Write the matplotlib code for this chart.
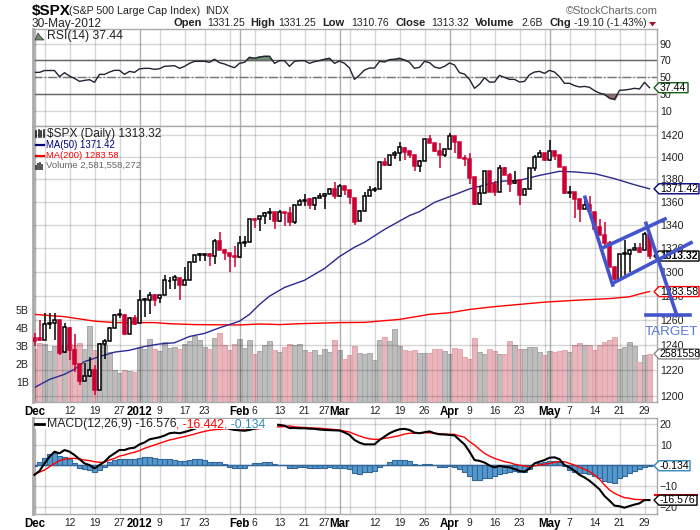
import matplotlib
matplotlib.use('Agg')
import matplotlib.pyplot as plt
from matplotlib.lines import Line2D
from matplotlib.patches import Polygon
from matplotlib.ticker import NullFormatter

W, H = 700, 530
plt.rcParams['font.family'] = ['Liberation Sans', 'DejaVu Sans']

# price, one row per ten sessions, Dec 1 2011 to May 30 2012
opens = [1246, 1246, 1244, 1257, 1258, 1260.5, 1235, 1254, 1236, 1225,
         1212, 1216, 1220, 1205, 1241, 1243, 1254, 1264.5, 1264, 1249,
         1262, 1258, 1277, 1277, 1281, 1278, 1281, 1292, 1293, 1295,
         1289, 1293, 1308, 1314, 1314, 1315, 1313, 1326, 1318, 1316,
         1313, 1312.5, 1324, 1325.5, 1345, 1345, 1347.5, 1350, 1351, 1343,
         1351, 1350, 1342, 1357, 1361, 1362, 1357, 1363, 1365, 1367,
         1371, 1365, 1374, 1370, 1363, 1343, 1352, 1365, 1370, 1371,
         1395, 1393, 1402, 1403, 1408, 1405, 1402, 1392, 1396.5, 1416,
         1412, 1405, 1402, 1407, 1418.5, 1413, 1398.5, 1398, 1382, 1358,
         1368, 1387, 1376, 1369, 1390, 1384, 1376.5, 1379, 1366, 1371,
         1390, 1400, 1403, 1397, 1405.5, 1402, 1391, 1368, 1369, 1362,
         1354, 1357, 1351, 1338, 1331, 1324, 1304, 1294, 1315, 1315,
         1318, 1320, 1318, 1331.25]
highs = [1250, 1260, 1266, 1266, 1266, 1260.5, 1258, 1255, 1249, 1225,
         1226, 1231, 1224, 1242, 1245, 1255, 1265, 1269, 1265, 1263,
         1264, 1285, 1278.5, 1283, 1282, 1281, 1297, 1296, 1297, 1295,
         1304, 1308, 1314.5, 1316, 1315, 1316, 1328, 1334, 1319, 1316,
         1322, 1330, 1330, 1345, 1345.5, 1348, 1351, 1354.5, 1351.5, 1353,
         1351.5, 1355, 1357, 1362, 1367, 1363, 1364, 1368, 1368, 1372,
         1377, 1376, 1374, 1370, 1363, 1353, 1369, 1374, 1373, 1395,
         1399, 1402, 1405, 1413, 1409, 1405, 1402, 1397, 1416, 1419.5,
         1412, 1412, 1407, 1422, 1419, 1413, 1402, 1403, 1382, 1374,
         1387, 1387, 1378, 1393, 1391, 1385, 1387, 1380, 1372, 1390,
         1402, 1406, 1403, 1415, 1405.5, 1402, 1391, 1374, 1369, 1362,
         1365, 1365, 1351, 1345, 1342, 1326, 1304, 1315, 1327, 1319,
         1324, 1324, 1334, 1331.25]
lows = [1239, 1243, 1244, 1253, 1244, 1232, 1234, 1228, 1219, 1209,
        1212, 1215, 1201, 1205, 1229, 1243, 1254, 1262, 1248, 1249,
        1256, 1258, 1263, 1265, 1272, 1274, 1281, 1286, 1286, 1277,
        1289, 1293, 1308, 1309, 1309, 1305, 1307, 1318, 1310, 1300,
        1304, 1312, 1321, 1325, 1337, 1335, 1341, 1344, 1336, 1342,
        1339, 1339, 1341, 1357, 1356, 1354, 1353, 1363, 1354, 1367,
        1362, 1364, 1366, 1358, 1340, 1343, 1352, 1365, 1369, 1371,
        1392, 1392, 1398, 1396, 1397, 1399, 1387, 1386, 1396, 1412,
        1404, 1390, 1400, 1407, 1403, 1399, 1392, 1376, 1357, 1357,
        1368, 1369, 1365, 1369, 1384, 1369, 1376, 1357, 1366, 1371,
        1387, 1400, 1396, 1396, 1397, 1391, 1367, 1363, 1346, 1342,
        1354, 1352, 1335, 1331, 1323, 1304, 1291, 1294, 1297, 1300,
        1318, 1316, 1318, 1310.76]
closes = [1243, 1244, 1257, 1258, 1260.5, 1234, 1255, 1236, 1225, 1212,
          1216, 1220, 1205, 1241, 1243, 1254, 1264.5, 1265, 1249, 1262,
          1257, 1277, 1277.5, 1281, 1277, 1281, 1293, 1292.5, 1296, 1289,
          1293, 1308, 1314.5, 1315, 1315, 1313, 1326, 1318, 1316, 1313,
          1312.5, 1324, 1325.5, 1345, 1344, 1347.5, 1350, 1351, 1343, 1351,
          1350, 1342, 1357, 1360.5, 1361.5, 1357, 1363, 1365, 1367, 1371,
          1365, 1374, 1370, 1364, 1342, 1352, 1365, 1370, 1371, 1395,
          1393, 1402, 1403, 1409, 1404.5, 1402, 1392, 1396.5, 1416, 1412,
          1405, 1402, 1407, 1418.5, 1413, 1399, 1398, 1381, 1358, 1368,
          1387, 1369, 1369, 1390, 1384, 1376, 1378.5, 1366, 1371, 1390,
          1400, 1403, 1397, 1405, 1401, 1391, 1368, 1368.5, 1362, 1354,
          1357, 1352, 1336, 1331, 1324, 1304, 1294, 1315, 1316, 1318,
          1320, 1317, 1332, 1313.32]

volume = [2.85, 3.16, 3.13, 2.74, 3.03, 3.1, 3.0, 3.15, 3.1, 3.17,
          2.88, 4.13, 2.8, 3.16, 3.1, 2.7, 1.68, 1.5, 1.68, 1.62,
          1.55, 2.97, 2.85, 3.4, 2.88, 2.74, 3.22, 2.92, 2.97, 2.88,
          3.13, 3.3, 3.57, 3.35, 2.97, 2.85, 3.45, 3.75, 3.07, 2.8,
          3.13, 3.39, 2.89, 3.35, 2.57, 2.74, 3.1, 3.29, 2.8, 2.66,
          2.98, 3.13, 3.07, 3.13, 2.8, 2.66, 2.8, 2.52, 2.85, 2.66,
          3.35, 2.8, 2.3, 2.52, 3.0, 2.65, 2.57, 2.65, 2.24, 3.35,
          3.5, 3.29, 3.94, 3.0, 2.8, 2.74, 2.8, 2.65, 2.65, 2.65,
          2.85, 2.85, 2.74, 2.57, 2.89, 2.83, 2.42, 2.29, 3.44, 2.66,
          2.55, 2.83, 2.76, 2.55, 2.6, 3.29, 3.1, 2.83, 2.83, 2.94,
          2.94, 2.66, 2.52, 2.74, 2.7, 2.74, 2.8, 2.66, 3.07, 3.16,
          3.07, 3.07, 2.8, 3.07, 3.22, 3.35, 3.5, 2.83, 2.94, 3.22,
          3.02, 2.11, 2.52, 2.58]

rsi = [55.8, 55.8, 58, 58, 58, 50.6, 55.4, 51.4, 48.6, 45,
       46.2, 47, 43.9, 53.4, 53.4, 56.2, 58.2, 58.2, 53.4, 57,
       55.8, 60, 60.6, 60.6, 59.4, 60.2, 63, 63.4, 63.8, 60.6,
       63, 66.6, 69, 69, 69, 67.8, 71.4, 67.4, 65.8, 63.4,
       61.4, 66.6, 67.8, 73.8, 72.6, 74.2, 75, 75, 66.6, 69.8,
       69.8, 63, 69, 69.8, 69.8, 66.6, 68.6, 69.8, 71.4, 72.6,
       66.6, 69.4, 66.6, 61, 47.4, 52.6, 58.6, 61, 61, 69,
       68.2, 71, 71.4, 72.6, 70.6, 67.8, 60.6, 61.8, 69, 67.4,
       62.2, 60.6, 63, 67, 64.6, 55.4, 53.8, 47.4, 36.7, 41.5,
       49.4, 44.2, 44.2, 52.2, 49.8, 47.4, 47.4, 44.2, 45, 53,
       56.2, 57, 54.6, 58.2, 56.2, 50.6, 42.7, 42.7, 39.9, 38.3,
       39, 37.9, 33.9, 31, 29.5, 25, 23.5, 34.3, 34.7, 35.5,
       36.7, 35.9, 43.9, 37.44]

macd = [-4.5, -2.6, 1, 4.2, 6.6, 5.8, 7.4, 6.6, 5, 3,
        1, 0.2, -1.4, 0.2, 1.8, 4.2, 5.8, 7.4, 7.4, 8.2,
        8.5, 10.1, 11, 12.5, 13, 13.5, 14.3, 15.4, 15.7, 15.4,
        16, 16.7, 17.5, 18.5, 19.3, 19.6, 19.5, 19.2, 18.5, 17.5,
        17, 16.8, 16.6, 17, 17.6, 18, 18.5, 19, 19.5, 19.4,
        19, 17.9, 17.9, 17.8, 17.8, 17.6, 17.5, 17.2, 17, 16.9,
        16.8, 16.7, 15.8, 14.6, 12.2, 10.9, 10.1, 10.1, 10.1, 12.2,
        13.8, 15.4, 16.5, 17.3, 17.5, 17, 15.7, 15.4, 15.9, 16.3,
        15.4, 14.9, 14.8, 14.6, 14.4, 12.2, 10.1, 6.6, 2.6, 2.2,
        1.4, 0, -0.9, -0.2, -0.6, -0.9, -1.7, -2.6, -3, -1.4,
        1, 1.8, 2.6, 3.7, 3.9, 3, 0.2, -1, -2.5, -4.5,
        -5.7, -7.3, -9.3, -11.4, -14.6, -16.8, -19.2, -19.5, -20.2, -19.4,
        -18.7, -18.1, -16.5, -16.576]
signal = [-4.1, -3.2, -2.2, -0.6, 1, 2.3, 3, 3.4, 3.4, 3.1,
          2.6, 2.3, 1.8, 1.5, 1.5, 2.6, 3.4, 4.5, 5, 5.8,
          6.3, 7.1, 8.2, 9, 9.8, 10.6, 11.4, 12.2, 12.7, 13.3,
          13.8, 14.4, 15, 15.7, 16.3, 16.8, 17.1, 17.3, 17.5, 17.6,
          17.6, 17.5, 17.4, 17.4, 17.5, 17.6, 17.8, 18, 18.3, 18.5,
          18.6, 18.9, 18.5, 18.3, 18.2, 18, 17.9, 17.8, 17.6, 17.4,
          17.2, 17, 16.4, 16, 15, 14.1, 13.3, 12.7, 12.5, 12.5,
          13, 13.3, 13.8, 14.3, 15, 15.4, 15.4, 15.5, 15.7, 15.6,
          15.4, 15.2, 15, 14.9, 14.9, 14.1, 13.5, 11.4, 9.8, 7.7,
          5.8, 4.5, 3.4, 2.6, 1.8, 1.4, 0.6, 0.1, -0.2, -0.6,
          -0.2, 0.2, 0.6, 1, 1.5, 1.8, 1.8, 1, 0.2, -0.9,
          -1.8, -3, -4.5, -6.6, -9.3, -11.7, -13.3, -14.4, -15.4, -15.7,
          -16.2, -16.3, -16.4, -16.442]
hist = [-0.4, 1.8, 3.7, 5.3, 6.2, 4.6, 4.1, 3.3, 1, -1,
        -1.9, -2.2, -3.3, -2.2, -0.6, 1.8, 2.6, 2.9, 2.9, 2.9,
        3, 3.4, 3.9, 3.9, 3.4, 3, 3.2, 3.2, 2.7, 2.1,
        2.3, 2.6, 2.9, 2.9, 2.4, 1.9, 1.8, 1.5, 0.5, -0.6,
        -1, -1, -1, 0.4, 1, 1, 1.5, 1.5, 0.5, 0,
        0, -1, -1, -0.5, -0.5, -1, -1, -1, -1, -0.5,
        -1, -1, -1.4, -1.9, -3.7, -4, -3.3, -3, -2.6, -0.6,
        0.4, 1.5, 2.4, 2.6, 2.6, 2.1, 0.5, 0, 0.5, 0.5,
        0, -0.9, -0.9, -0.4, -0.9, -1.9, -3.3, -4.9, -7, -7,
        -6, -5.8, -4.9, -4, -3.6, -2.9, -2.6, -3.3, -3, -1.7,
        0, 1, 1.5, 2.1, 2.3, 1.5, -0.2, -2.3, -3, -3.8,
        -3.8, -4.3, -5.1, -5.9, -7.3, -8.1, -8.6, -6.2, -4.9, -3.8,
        -2.6, -1.7, -0.6, -0.134]

ma50_idx = [0, 3, 6, 8, 10, 13, 16, 19, 22, 25, 28, 31, 34, 37, 40, 41, 43, 45,
            47, 50, 54, 58, 61, 64, 66, 70, 75, 77, 80, 83, 87, 89, 93, 97, 101,
            105, 108, 112, 116, 120, 123]
ma50 = [1206.7, 1213, 1217, 1221, 1227, 1231, 1234.5, 1236, 1239, 1241, 1242,
        1247, 1249.5, 1254, 1258, 1259.4, 1264.9, 1273, 1279.8, 1287, 1293,
        1302.8, 1312.9, 1320.8, 1325, 1336, 1348, 1351.4, 1359.5, 1364.5,
        1371.3, 1373.6, 1378, 1378.9, 1383.3, 1386.9, 1386.4, 1384.9, 1380.4,
        1375, 1371.42]
ma200_idx = [0, 6, 12, 16, 24, 27, 32, 41, 45, 49, 53, 61, 66, 73, 79, 83, 87,
             92, 102, 109, 115, 119, 122, 123]
ma200 = [1264.9, 1263, 1259.4, 1258.2, 1258.2, 1257.3, 1256.6, 1256.3, 1257.1,
         1256.6, 1257.3, 1258.2, 1258.4, 1260.8, 1264.9, 1266.2, 1268.9, 1271.2,
         1274.9, 1276.6, 1277.8, 1279.3, 1282.7, 1283.58]

tick_idx = [0, 2, 7, 12, 17, 21, 25, 30, 34, 39, 41, 44, 49, 54, 58, 61, 63, 68,
            73, 78, 83, 87, 92, 97, 102, 103, 107, 112, 117, 122]
tick_labels = ['Dec', '', '12', '19', '27', '2012', '9', '17', '23', '', 'Feb',
               '6', '13', '21', '27', 'Mar', '', '12', '19', '26', 'Apr', '9',
               '16', '23', '', 'May', '7', '14', '21', '29']
month_idx = [0, 21, 41, 61, 83, 103]
bold_labels = ['Dec', '2012', 'Feb', 'Mar', 'Apr', 'May']

price_ticks = [1200, 1220, 1240, 1260, 1280, 1300, 1320, 1340, 1360, 1380, 1400, 1420]
vol_ticks = [1, 2, 3, 4, 5]
rsi_ticks = [10, 30, 50, 70, 90]
macd_ticks = [-20, -10, 0, 10, 20]

idx = list(range(len(closes)))
RED = '#cc0033'
BORDER = '#aaaaaa'
TXT = '#222222'
FS = 7.7


def axes_px(left, top, right, bottom, **kw):
    return fig.add_axes([left / W, 1 - bottom / H, (right - left) / W, (bottom - top) / H], **kw)


def px_text(x, y, s, **kw):
    kw.setdefault('fontsize', FS)
    kw.setdefault('color', TXT)
    kw.setdefault('va', 'center')
    return fig.text(x / W, 1 - y / H, s, parse_math=False, **kw)


def px_line(xs, ys, **kw):
    fig.add_artist(Line2D([x / W for x in xs], [1 - y / H for y in ys],
                          transform=fig.transFigure, **kw))


def tag(ax, value, text, color, right, weight='normal', fill='white'):
    # value flag on the right edge, sits on the axis pixel of its value
    y = H - ax.transData.transform((0, value))[1]
    pts = [(654, y), (659, y - 5), (right, y - 5), (right, y + 5), (659, y + 5)]
    fig.add_artist(Polygon([(a / W, 1 - b / H) for a, b in pts], closed=True, zorder=20,
                           transform=fig.transFigure, fc=fill, ec=color, lw=1))
    px_text(660, y, text, color='black', fontweight=weight, zorder=21, fontsize=7.6)


def style(ax, yticks):
    ax.set_xlim(-0.3, 124.5)
    ax.set_xticks(tick_idx)
    ax.set_xticklabels([])
    ax.set_yticks(yticks)
    ax.yaxis.tick_right()
    ax.tick_params(axis='both', length=0, labelsize=FS, labelcolor=TXT, pad=2)
    # alpha, not an opaque grey, so the lines still show over the volume bars
    ax.grid(True, color='black', alpha=0.16, lw=1)
    ax.set_axisbelow(True)
    for m in month_idx:
        ax.axvline(m, color='black', alpha=0.17, lw=1, zorder=0.5)
    for side in ax.spines.values():
        side.set_color(BORDER)
        side.set_linewidth(1)
    ax.spines['left'].set_linewidth(2)


def date_labels(ax):
    ax.set_xticklabels(tick_labels)
    ax.tick_params(axis='x', pad=3, labelsize=7.4)
    for lab in ax.get_xticklabels():
        if lab.get_text() in bold_labels:
            lab.set_fontweight('bold')
            lab.set_fontsize(8.3)
            lab.set_color('black')


fig = plt.figure(figsize=(W / 100, H / 100), dpi=100)

# rsi panel
ax_rsi = axes_px(33, 29, 657, 126)
style(ax_rsi, rsi_ticks)
ax_rsi.set_ylim(-8.4, 107.7)
ax_rsi.axhline(70, color='#666666', lw=1)
ax_rsi.axhline(30, color='#666666', lw=1)
ax_rsi.axhline(50, color='#777777', lw=1, ls='-.')
ax_rsi.fill_between(idx, rsi, 70, where=[v >= 70 for v in rsi], interpolate=True, color='#6f8f6f')
ax_rsi.fill_between(idx, rsi, 30, where=[v <= 30 for v in rsi], interpolate=True, color='#9a7070')
ax_rsi.plot(idx, rsi, color='#222233', lw=1)

# volume sits behind the candles, on its own scale
ax_vol = axes_px(33, 126, 657, 402)
ax_vol.set_xlim(-0.3, 124.5)
ax_vol.set_ylim(-0.09, 15.24)
ax_vol.set_xticks([])
ax_vol.set_yticks(vol_ticks)
ax_vol.set_yticklabels([f'{v}B' for v in vol_ticks])
ax_vol.tick_params(axis='y', length=0, labelsize=FS, labelcolor=TXT, pad=3)
for side in ax_vol.spines.values():
    side.set_visible(False)
ax_vol.set_zorder(1)
vol_down = [c < o for o, c in zip(opens, closes)]
ax_vol.bar(idx, [v + 0.09 for v in volume], bottom=-0.09, width=1.0,
           color=['#e8b6bc' if d else '#bdbdbd' for d in vol_down],
           edgecolor=['#e4a4aa' if d else '#a8a8a8' for d in vol_down], lw=0.7)

# candles
ax = axes_px(33, 126, 657, 402)
ax.set_zorder(2)
ax.patch.set_visible(False)
ax.set_yscale('log')
style(ax, price_ticks)
ax.set_yticklabels([str(p) for p in price_ticks])
ax.yaxis.set_minor_locator(plt.NullLocator())
ax.yaxis.set_minor_formatter(NullFormatter())
ax.set_ylim(1195.5, 1428)
date_labels(ax)
ax.plot(ma200_idx, ma200, color='#ff0000', lw=1, zorder=2)
ax.plot(ma50_idx, ma50, color='#2a2a90', lw=1, zorder=2)
for i, o, h, l, c in zip(idx, opens, highs, lows, closes):
    down = c < o
    col = RED if down else 'black'
    ax.vlines(i, l, h, color=col, lw=1.1, zorder=3)
    ax.bar(i, max(abs(c - o), 0.4), bottom=min(o, c), width=0.75, zorder=4,
           color=RED if down else 'white', edgecolor=col, lw=1.1)

# macd panel
ax_m = axes_px(33, 418, 657, 514)
style(ax_m, macd_ticks)
ax_m.set_ylim(-23.2, 22.7)
date_labels(ax_m)
ax_m.bar(idx, hist, width=1.0, color='#5599cc', edgecolor='#336699', lw=0.8, zorder=2)
ax_m.axhline(0, color='#336699', lw=1, zorder=2)
ax_m.plot(idx, signal, color='#ff0000', lw=1, zorder=3)
ax_m.plot(idx, macd, color='black', lw=1.5, zorder=4)
# legend strip hides the lines behind it
ax_m.fill_between([0.1, 48.5], 17.3, 22.4, color='white', zorder=5, lw=0)

# header
px_text(32, 10.5, '$SPX', fontsize=11, fontweight='bold', color='black')
px_text(69, 10.5, '(S&P 500 Large Cap Index)', fontsize=7.7)
px_text(205, 10.5, 'INDX', fontsize=7.2)
px_text(32, 23.5, '30-May-2012', fontsize=8.6)
for x, s, b in [(174, 'Open', True), (207, '1331.25', False), (250, 'High', True),
                (278, '1331.25', False), (322, 'Low', True), (351, '1310.76', False),
                (395, 'Close', True), (431, '1313.32', False), (475, 'Volume', True),
                (521, '2.6B', False), (549, 'Chg', True), (574, '-19.10 (-1.43%)', False)]:
    px_text(x, 23.5, s, fontsize=8.0 if b else 7.5, fontweight='bold' if b else 'normal')
px_text(566, 10.5, '\u00a9StockCharts.com', fontsize=7.9, color='#666666')
fig.add_artist(Polygon([(649 / W, 1 - 22 / H), (656 / W, 1 - 22 / H), (652.5 / W, 1 - 26.5 / H)],
                       transform=fig.transFigure, fc='#aa1133', ec='none'))

# legends
fig.add_artist(Polygon([(35 / W, 1 - 40 / H), (38 / W, 1 - 33 / H), (40 / W, 1 - 36 / H),
                        (44 / W, 1 - 40 / H)], transform=fig.transFigure, fc='#6f8f6f', ec='#333333', lw=0.5))
px_text(47, 36.5, 'RSI(14) 37.44', fontsize=8.8)
px_text(47, 133.5, '$SPX (Daily) 1313.32', fontsize=8.6)
for x, y0 in [(36, 131), (38.5, 130), (41, 131), (43.5, 130)]:
    px_line([x, x], [y0, 137], color='#222222', lw=1.2)
px_line([35, 44], [144.5, 144.5], color='#000080', lw=1.6)
px_text(46, 144.5, 'MA(50) 1371.42', color='#000080', fontsize=6.9)
px_line([35, 44], [155.5, 155.5], color='#ff0000', lw=1.6)
px_text(46, 155.5, 'MA(200) 1283.58', color='#ff0000', fontsize=6.75)
for x, y0 in [(36, 166), (38, 164), (40, 163), (42, 165)]:
    px_line([x, x], [y0, 169], color='#555555', lw=1.4)
px_text(46, 165.5, 'Volume 2,581,558,272', color='#666666', fontsize=6.8)
px_line([35, 44], [424, 424], color='black', lw=2)
m1 = px_text(47, 424.5, 'MACD(12,26,9) -16.576', fontsize=8.8, zorder=10)
m2 = ax_m.annotate(', -16.442', xy=(1, 0.5), xycoords=m1, va='center', fontsize=8.8, color='#ff0000',
                   parse_math=False, annotation_clip=False, zorder=10)
m3 = ax_m.annotate(', -0.134', xy=(1, 0.5), xycoords=m2, va='center', fontsize=8.8, color='#3388bb',
                   parse_math=False, annotation_clip=False, zorder=10)

# value flags
fig.canvas.draw()
tag(ax_rsi, 37.44, '37.44', '#1a5c1a', 688)
tag(ax, 1371.42, '1371.42', '#000080', 699)
tag(ax, 1283.58, '1283.58', '#ff0000', 699)
tag(ax, 1313.32, '1313.32', 'black', 699, weight='bold')
tag(ax_vol, 2.58, '2581558', '#888888', 699)
tag(ax_m, -0.134, '-0.134', '#3388bb', 690)
px_line([655, 697], [495, 495], color='#ff0000', lw=1.5, zorder=19)
tag(ax_m, -16.576, '-16.576', 'black', 697)

# hand drawn bear flag on top of the chart
BLUE = '#4455cc'
px_line([585, 612.7], [197.3, 285], color=BLUE, lw=2.6, zorder=30)
px_line([601.7, 665], [248.3, 219], color=BLUE, lw=2.6, zorder=30)
px_line([612.7, 691], [283.3, 242.7], color=BLUE, lw=2.6, zorder=30)
px_line([646, 676.7], [223.3, 315], color=BLUE, lw=2.6, zorder=30)
px_line([646, 690], [315, 315], color=BLUE, lw=2.6, zorder=30)
px_text(645, 332, 'TARGET', color='#5577dd', fontsize=9.6, zorder=30)

fig.savefig('out.png', dpi=100)
